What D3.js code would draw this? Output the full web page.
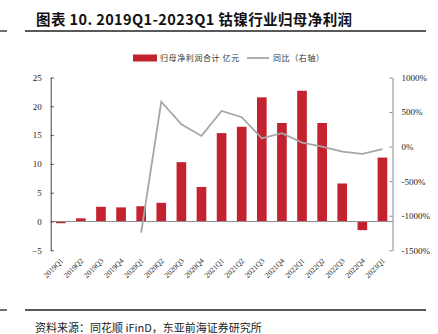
<!DOCTYPE html>
<html>
<head>
<meta charset="utf-8">
<script src="https://cdn.jsdelivr.net/npm/d3@7"></script>
<style>
  body { margin: 0; background: #fff; }
  svg { display: block; }
</style>
</head>
<body>
<div id="chart"></div>
<script>
// Data
var quarters = ["2019Q1","2019Q2","2019Q3","2019Q4","2020Q1","2020Q2","2020Q3","2020Q4",
  "2021Q1","2021Q2","2021Q3","2021Q4","2022Q1","2022Q2","2022Q3","2022Q4","2023Q1"];
var profit = [-0.3, 0.55, 2.55, 2.45, 2.65, 3.25, 10.3, 6.0,
  15.35, 16.45, 21.55, 17.1, 22.7, 17.1, 6.6, -1.5, 11.1];
var yoy = [null, null, null, null, -1243, 650, 324, 155,
  516, 425, 121, 194, 58, 0, -72, -105, -38];
var leftTicks = [-5, 0, 5, 10, 15, 20, 25];
var rightTicks = [-1500, -1000, -500, 0, 500, 1000];

var width = 438, height = 334;
var margin = { top: 77.5, right: 45.5, bottom: 84, left: 50.7 };
var plotW = width - margin.left - margin.right;
var plotH = 250.3 - margin.top;

var svg = d3.select("#chart").append("svg")
  .attr("width", width)
  .attr("height", height);

var serif = "'Liberation Serif', 'Noto Sans CJK SC', serif";
var cjk = "'Noto Sans CJK SC', sans-serif";

// Title
svg.append("text")
  .attr("x", 36).attr("y", 24.5)
  .style("font-family", cjk)
  .style("font-weight", "bold")
  .style("font-size", "14.5px")
  .style("letter-spacing", "0.4px")
  .attr("fill", "#111")
  .text("图表 10. 2019Q1-2023Q1 钴镍行业归母净利润");

svg.append("line").attr("x1", 25).attr("x2", 426).attr("y1", 31).attr("y2", 31)
  .attr("stroke", "#222").attr("stroke-width", 1.3);
svg.append("line").attr("x1", 0).attr("x2", 7).attr("y1", 31).attr("y2", 31)
  .attr("stroke", "#222").attr("stroke-width", 1.3);

var g = svg.append("g")
  .attr("transform", `translate(${margin.left}, ${margin.top})`);

var x = d3.scaleBand()
  .domain(quarters)
  .range([0, plotW])
  .paddingInner(0.52)
  .paddingOuter(0.26);

var yLeft = d3.scaleLinear().domain([-5, 25]).range([plotH, 0]);
var yRight = d3.scaleLinear().domain([-1500, 1000]).range([plotH, 0]);

// Bars
g.selectAll(".bar")
  .data(profit)
  .enter()
  .append("rect")
  .attr("class", "bar")
  .attr("x", (d, i) => x(quarters[i]))
  .attr("y", d => yLeft(Math.max(0, d)))
  .attr("width", x.bandwidth())
  .attr("height", d => Math.abs(yLeft(d) - yLeft(0)))
  .attr("fill", "#c5222f");

// Zero line
g.append("line")
  .attr("x1", 0).attr("x2", plotW)
  .attr("y1", yLeft(0)).attr("y2", yLeft(0))
  .attr("stroke", "#8c8c8c").attr("stroke-width", 1);

// YoY line
var line = d3.line()
  .defined(d => d != null)
  .x((d, i) => x(quarters[i]) + x.bandwidth() / 2)
  .y(d => yRight(d));

g.append("path")
  .datum(yoy)
  .attr("d", line)
  .attr("fill", "none")
  .attr("stroke", "#a6a6a6")
  .attr("stroke-width", 1.8);

// Left axis
var leftAxis = d3.axisLeft(yLeft).tickValues(leftTicks).tickSizeInner(-3).tickSizeOuter(0).tickPadding(9);
var la = g.append("g").call(leftAxis);
la.select(".domain").attr("stroke", "#444");
la.selectAll(".tick line").attr("stroke", "#444");
la.selectAll("text").style("font-family", serif).style("font-size", "9px").attr("fill", "#222");

// Right axis
var rightAxis = d3.axisRight(yRight).tickValues(rightTicks).tickSizeInner(-3).tickSizeOuter(0).tickPadding(9)
  .tickFormat(d => d + "%");
var ra = g.append("g").attr("transform", `translate(${plotW}, 0)`).call(rightAxis);
ra.select(".domain").attr("stroke", "#888");
ra.selectAll(".tick line").attr("stroke", "#888");
ra.selectAll("text").style("font-family", serif).style("font-size", "9px").attr("fill", "#222");

// X labels, rotated
g.selectAll(".xlab")
  .data(quarters)
  .enter()
  .append("text")
  .attr("class", "xlab")
  .attr("transform", d => `translate(${x(d) + x.bandwidth() / 2 + 3}, ${plotH + 11}) rotate(-45)`)
  .attr("text-anchor", "end")
  .style("font-family", serif)
  .style("font-size", "7.5px")
  .attr("fill", "#222")
  .text(d => d);

// Legend
var lg = svg.append("g").attr("transform", "translate(133, 58)");
lg.append("rect").attr("x", 0).attr("y", -3.5).attr("width", 24).attr("height", 7).attr("fill", "#c5222f");
lg.append("text").attr("x", 27).attr("y", 3)
  .style("font-family", cjk).style("font-size", "8px").style("letter-spacing", "0.6px").attr("fill", "#333")
  .text("归母净利润合计 亿元");
lg.append("line").attr("x1", 114).attr("x2", 136).attr("y1", 0).attr("y2", 0)
  .attr("stroke", "#a6a6a6").attr("stroke-width", 1.8);
lg.append("text").attr("x", 140).attr("y", 3)
  .style("font-family", cjk).style("font-size", "8px").style("letter-spacing", "0.6px").attr("fill", "#333")
  .text("同比（右轴）");

// Footer
svg.append("line").attr("x1", 25).attr("x2", 426).attr("y1", 310).attr("y2", 310)
  .attr("stroke", "#222").attr("stroke-width", 1.3);
svg.append("line").attr("x1", 0).attr("x2", 7).attr("y1", 310).attr("y2", 310)
  .attr("stroke", "#222").attr("stroke-width", 1.3);
svg.append("text")
  .attr("x", 35).attr("y", 332)
  .style("font-family", cjk)
  .style("font-size", "11px")
  .attr("fill", "#222")
  .text("资料来源：同花顺 iFinD，东亚前海证券研究所");
</script>
</body>
</html>
